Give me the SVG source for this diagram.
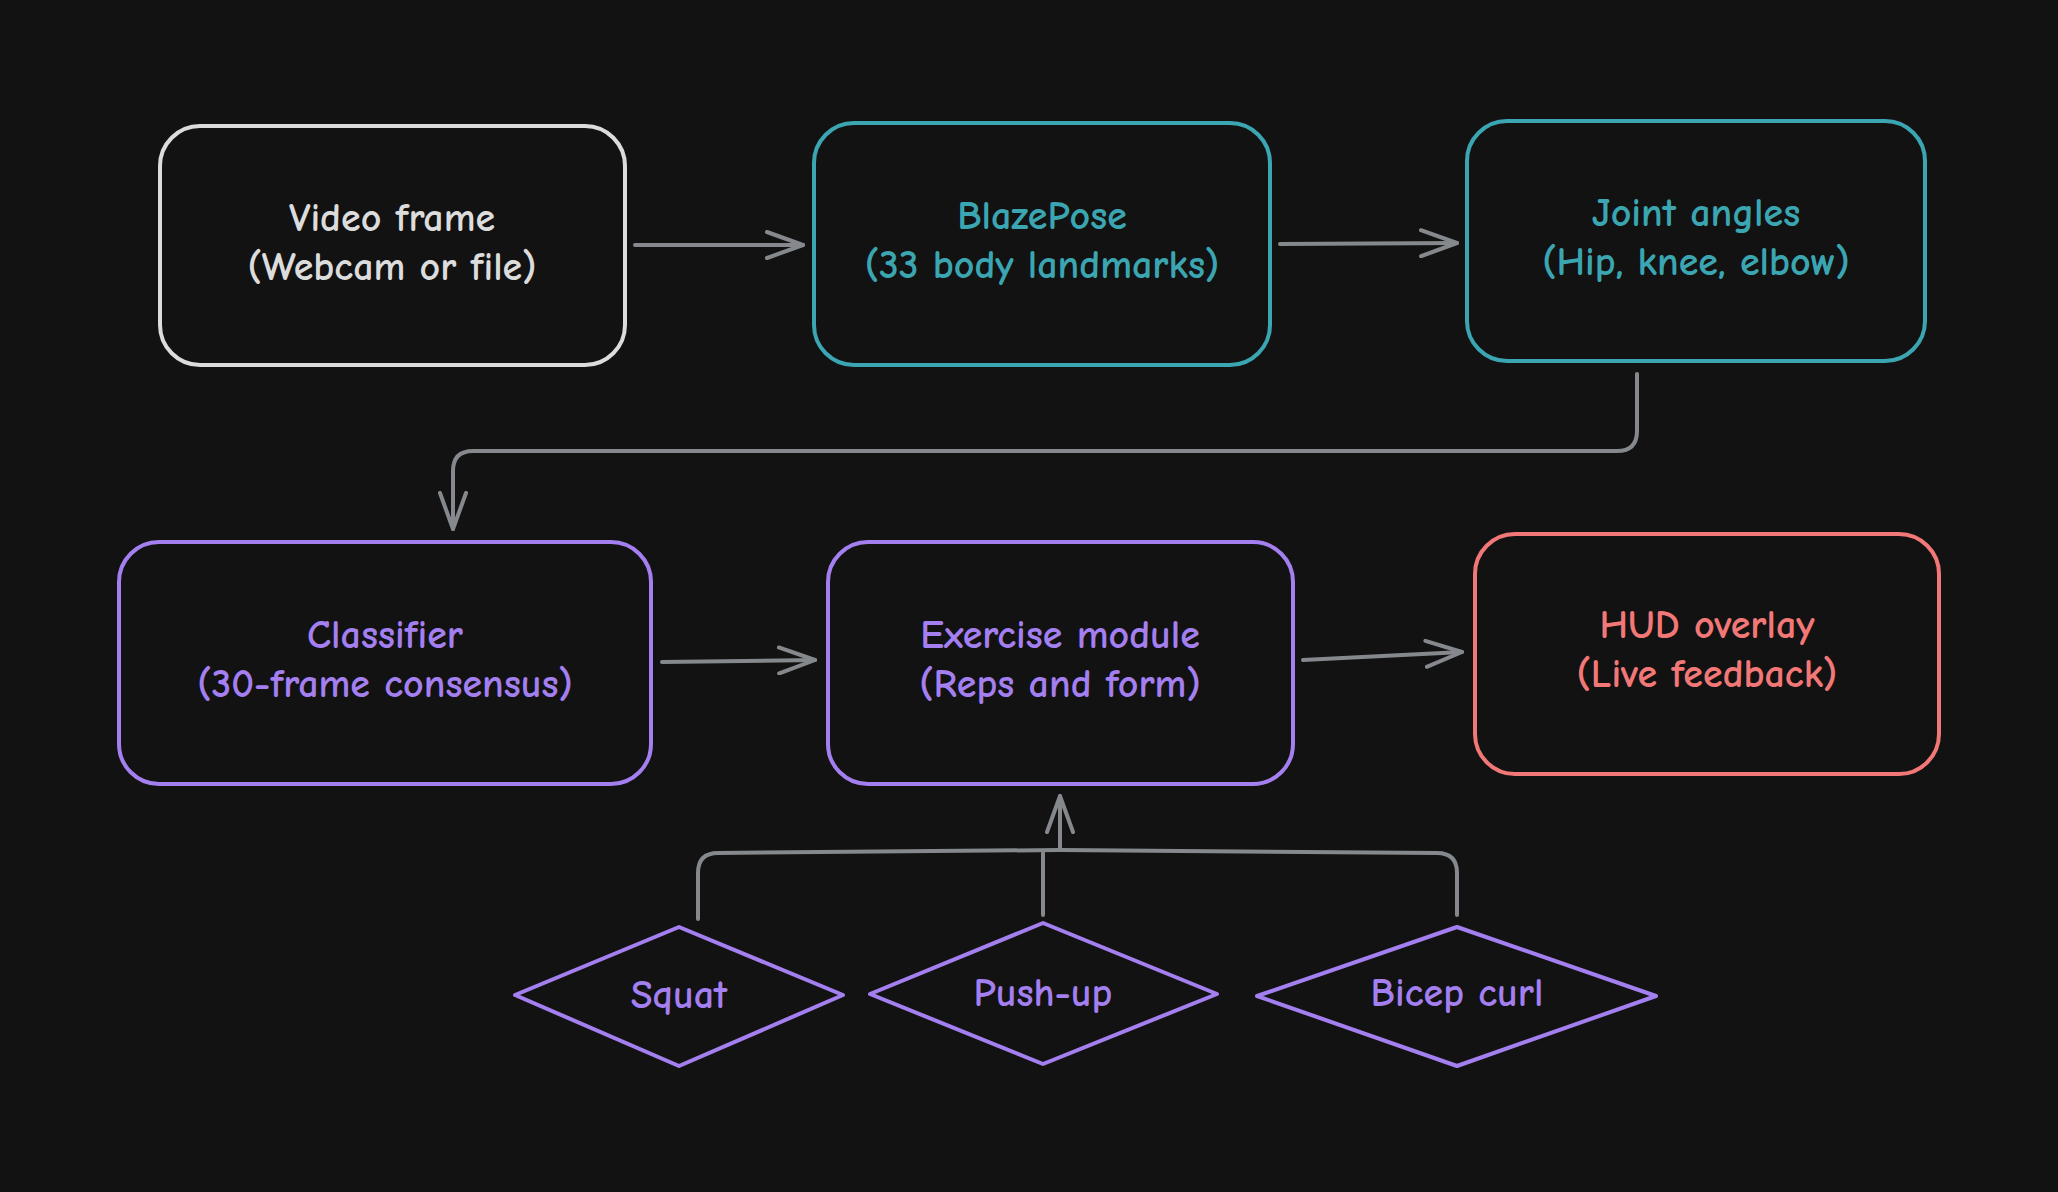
<svg xmlns="http://www.w3.org/2000/svg" width="2058" height="1192" viewBox="0 0 2058 1192">
<style>
.n{fill:none;stroke-width:4}
.t{font-family:"Comic Neue","Open Sans",sans-serif;font-size:40px;font-weight:bold;text-anchor:middle}
.w{stroke:#dcdcdc}.wt{fill:#dcdcdc}
.c{stroke:#3ba6b2}.ct{fill:#3ba6b2}
.p{stroke:#a47ff0}.pt{fill:#a47ff0}
.r{stroke:#f27878}.rt{fill:#f27878}
.e{fill:none;stroke:#85888c;stroke-width:4;stroke-linecap:round;stroke-linejoin:round}
</style>
<defs><marker id="a" viewBox="0 0 40 30" refX="38" refY="15" markerWidth="40" markerHeight="30" markerUnits="userSpaceOnUse" orient="auto"><path d="M2,2 L38,15 L2,28" fill="none" stroke="#85888c" stroke-width="4" stroke-linecap="round" stroke-linejoin="round"/></marker></defs>
<rect width="2058" height="1192" fill="#121212"/>
<g id="video"><rect class="n w" x="160" y="126" width="465" height="239" rx="40"/><text class="t wt" x="392" y="231">Video frame</text><text class="t wt" x="392" y="280">(Webcam or file)</text></g>
<g id="blazepose"><rect class="n c" x="814" y="123" width="456" height="242" rx="40"/><text class="t ct" x="1042" y="229">BlazePose</text><text class="t ct" x="1042" y="278">(33 body landmarks)</text></g>
<g id="joint"><rect class="n c" x="1467" y="121" width="458" height="240" rx="40"/><text class="t ct" x="1696" y="226">Joint angles</text><text class="t ct" x="1696" y="275">(Hip, knee, elbow)</text></g>
<g id="classifier"><rect class="n p" x="119" y="542" width="532" height="242" rx="40"/><text class="t pt" x="385" y="648">Classifier</text><text class="t pt" x="385" y="697">(30-frame consensus)</text></g>
<g id="exercise"><rect class="n p" x="828" y="542" width="465" height="242" rx="40"/><text class="t pt" x="1060" y="648">Exercise module</text><text class="t pt" x="1060" y="697">(Reps and form)</text></g>
<g id="hud"><rect class="n r" x="1475" y="534" width="464" height="240" rx="40"/><text class="t rt" x="1707" y="638">HUD overlay</text><text class="t rt" x="1707" y="687">(Live feedback)</text></g>
<g id="squat"><path class="n p" d="M679,927 L843,995 L679,1066 L515,995 Z" stroke-linejoin="round"/><text class="t pt" x="679" y="1008">Squat</text></g>
<g id="pushup"><path class="n p" d="M1043,923 L1217,994 L1043,1064 L870,994 Z" stroke-linejoin="round"/><text class="t pt" x="1043" y="1006">Push-up</text></g>
<g id="bicep"><path class="n p" d="M1457,927 L1656,996 L1457,1066 L1257,996 Z" stroke-linejoin="round"/><text class="t pt" x="1457" y="1006">Bicep curl</text></g>
<g id="connectors">
<path class="e" d="M635,245 L803,245" marker-end="url(#a)"/>
<path class="e" d="M1280,244 L1457,243" marker-end="url(#a)"/>
<path class="e" d="M1637,374 L1637,431 Q1637,451 1617,451 L473,451 Q453,451 453,471 L453,529" marker-end="url(#a)"/>
<path class="e" d="M662,662 L815,660" marker-end="url(#a)"/>
<path class="e" d="M1303,660 L1462,652" marker-end="url(#a)"/>
<path class="e" d="M698,919 L698,873 Q698,853 718,853 L1060,850"/>
<path class="e" d="M1043,915 L1043,853"/>
<path class="e" d="M1457,915 L1457,873 Q1457,853 1437,853 L1060,850"/>
<path class="e" d="M1060,850 L1060,796" marker-end="url(#a)"/>
</g>
</svg>
